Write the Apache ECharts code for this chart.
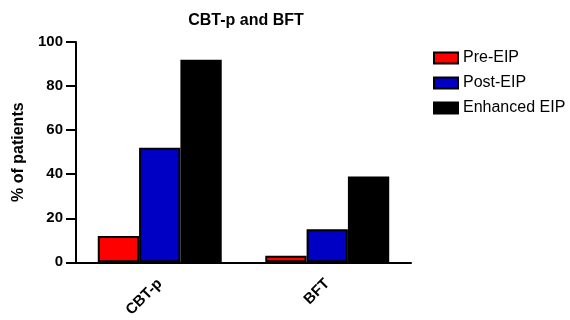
<!DOCTYPE html>
<html><head><meta charset="utf-8">
<script src="https://cdn.jsdelivr.net/npm/echarts@6/dist/echarts.min.js"></script>
<style>html,body{margin:0;padding:0;background:#fff}#c{width:570px;height:320px}</style>
</head><body><div id="c"></div>
<script>
var categories = ['CBT-p', 'BFT'];
var seriesNames = ['Pre-EIP', 'Post-EIP', 'Enhanced EIP'];
var preEIP = [12, 3];
var postEIP = [52, 15];
var enhancedEIP = [92, 39];
var colors = ['#ff0000', '#0000c4', '#000000'];
var chart = echarts.init(document.getElementById('c'));
var font = 'Liberation Sans, Arial, sans-serif';
function mk(name, data, color) {
  return {name: name, type: 'bar', data: data, barGap: '0%', barCategoryGap: '26%',
    itemStyle: {color: color, borderColor: '#000', borderWidth: 2}};
}
chart.setOption({
  animation: false,
  title: {text: 'CBT-p and BFT', left: 241, top: 8, textAlign: 'center',
    textStyle: {fontFamily: font, fontSize: 16, fontWeight: 'bold', color: '#000'}},
  legend: {orient: 'vertical', left: 428, top: 45, itemGap: 9, itemWidth: 24, itemHeight: 11, icon: 'rect',
    itemStyle: {borderColor: '#000', borderWidth: 2},
    textStyle: {fontFamily: font, fontSize: 16, color: '#000'}, data: seriesNames},
  grid: {left: 76, right: 159, top: 42, bottom: 56, containLabel: false},
  xAxis: {type: 'category', data: categories,
    axisLine: {lineStyle: {color: '#000', width: 2}},
    axisTick: {alignWithLabel: true, length: 8, lineStyle: {color: '#000', width: 2}},
    axisLabel: {rotate: 45, fontFamily: font, fontSize: 15, fontWeight: 'bold', color: '#000', margin: 19}},
  yAxis: {type: 'value', min: 0, max: 100, interval: 20, name: '% of patients',
    nameLocation: 'middle', nameGap: 42, nameRotate: 90,
    nameTextStyle: {fontFamily: font, fontSize: 16, fontWeight: 'bold', color: '#000'},
    splitLine: {show: false},
    axisLine: {show: true, lineStyle: {color: '#000', width: 2}},
    axisTick: {show: true, length: 10, lineStyle: {color: '#000', width: 2}},
    axisLabel: {fontFamily: font, fontSize: 15, fontWeight: 'bold', color: '#000', margin: 13}},
  series: [mk(seriesNames[0], preEIP, colors[0]), mk(seriesNames[1], postEIP, colors[1]), mk(seriesNames[2], enhancedEIP, colors[2])]
});
</script></body></html>
